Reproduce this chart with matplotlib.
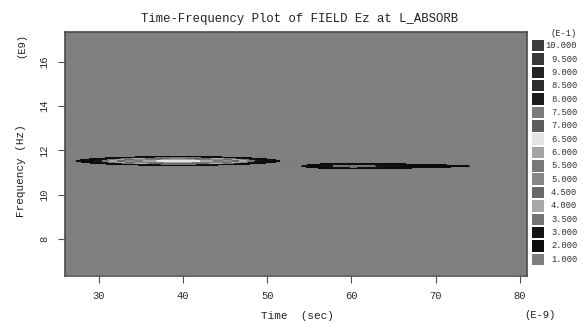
import matplotlib
matplotlib.use("Agg")
import matplotlib.pyplot as plt
from matplotlib.colors import ListedColormap, BoundaryNorm
from matplotlib.transforms import blended_transform_factory
import numpy as np

# colour scale levels (E-1) and the grey shade shown for each
levels = [1.0, 2.0, 3.0, 3.5, 4.0, 4.5, 5.0, 5.5, 6.0, 6.5, 7.0, 7.5, 8.0, 8.5, 9.0, 9.5, 10.0]
level_colors = ['#7e7e7e', '#0c0c0c', '#141414', '#747474', '#a8a8a8', '#686868',
                '#888888', '#787878', '#a4a4a4', '#e4e4e4', '#5c5c5c', '#7c7c7c',
                '#1c1c1c', '#2c2c2c', '#242424', '#383838', '#3c3c3c']
background = '#808080'

# the two ridges seen in the plot (time in ns, freq in GHz)
ridge_t0 = [39.4, 60.5]
ridge_f0 = [11.50, 11.27]
ridge_peak = [6.9, 4.0]
ridge_wleft = [11.0, 7.8]
ridge_wright = [11.0, 20.0]
ridge_pleft = [2.13, 2.0]
ridge_pright = [2.13, 1.0]
ridge_sigf = [0.14, 0.13]

x_ticks = [30, 40, 50, 60, 70, 80]
y_ticks = [8, 10, 12, 14, 16]
xlim = (26.0, 80.83)
ylim = (6.37, 17.35)

mono = 'Liberation Mono'

# one cell per screen pixel of the plot area
t = np.linspace(xlim[0], xlim[1], 462)
f = np.linspace(ylim[0], ylim[1], 244)
T, F = np.meshgrid(t, f)
Z = np.zeros_like(T)
for i in range(len(ridge_t0)):
    u = T - ridge_t0[i]
    env = np.where(u < 0,
                   np.exp(-np.abs(u / ridge_wleft[i]) ** ridge_pleft[i]),
                   np.exp(-np.abs(u / ridge_wright[i]) ** ridge_pright[i]))
    Z = np.maximum(Z, ridge_peak[i] * env *
                   np.exp(-0.5 * ((F - ridge_f0[i]) / ridge_sigf[i]) ** 2))

cmap = ListedColormap([background] + level_colors)
norm = BoundaryNorm([-1.0] + levels + [100.0], cmap.N)

fig = plt.figure(figsize=(5.85, 3.24), dpi=100)
ax = fig.add_axes([65 / 585, 1 - 275.5 / 324, 462 / 585, 243.8 / 324])
ax.imshow(Z, extent=[xlim[0], xlim[1], ylim[0], ylim[1]], origin='lower',
          aspect='auto', interpolation='nearest', cmap=cmap, norm=norm)
ax.set_xlim(*xlim)
ax.set_ylim(*ylim)
ax.set_xticks(x_ticks)
ax.set_yticks(y_ticks)
ax.set_xticklabels([str(v) for v in x_ticks], fontfamily=mono, fontsize=7.6)
ax.set_yticklabels([str(v) for v in y_ticks], fontfamily=mono, fontsize=7.6,
                   rotation=90, va='center')
ax.tick_params(direction='out', length=5, width=0.8, color='#505050',
               labelcolor='#303030', pad=6)
for s in ax.spines.values():
    s.set_color('#4a4a4a')
    s.set_linewidth(1.2)

fig.text(300 / 585, 1 - 19 / 324, 'Time-Frequency Plot of FIELD Ez at L_ABSORB',
         fontfamily=mono, fontsize=8.8, ha='center', va='center', color='#202020')
fig.text(297 / 585, 1 - 316 / 324, 'Time  (sec)', fontfamily=mono, fontsize=7.9,
         ha='center', va='center', color='#202020')
fig.text(540 / 585, 1 - 315 / 324, '(E-9)', fontfamily=mono, fontsize=7.6,
         ha='center', va='center', color='#202020')
fig.text(21 / 585, 1 - 171 / 324, 'Frequency (Hz)', fontfamily=mono, fontsize=7.9,
         ha='center', va='center', rotation=90, color='#202020')
fig.text(21 / 585, 1 - 46 / 324, '(E9)', fontfamily=mono, fontsize=7.6,
         ha='center', va='center', rotation=90, color='#202020')

# discrete legend of levels
cax = fig.add_axes([531.7 / 585, 1 - 266 / 324, 12.3 / 585, 227 / 324])
idx = np.arange(len(levels))
cax.barh(idx, 1, height=0.86, color=level_colors, left=0)
cax.set_xlim(0, 1)
cax.set_ylim(-0.5, len(levels) - 0.5)
cax.axis('off')
tr = blended_transform_factory(cax.transAxes, cax.transData)
for i, lv in enumerate(levels):
    cax.text(3.7, i, '%.3f' % lv, transform=tr, ha='right', va='center',
             fontfamily=mono, fontsize=6.3, color='#303030')
fig.text(577 / 585, 1 - 33 / 324, '(E-1)', fontfamily=mono, fontsize=6.3,
         ha='right', va='center', color='#303030')

fig.savefig('out.png', dpi=100)
